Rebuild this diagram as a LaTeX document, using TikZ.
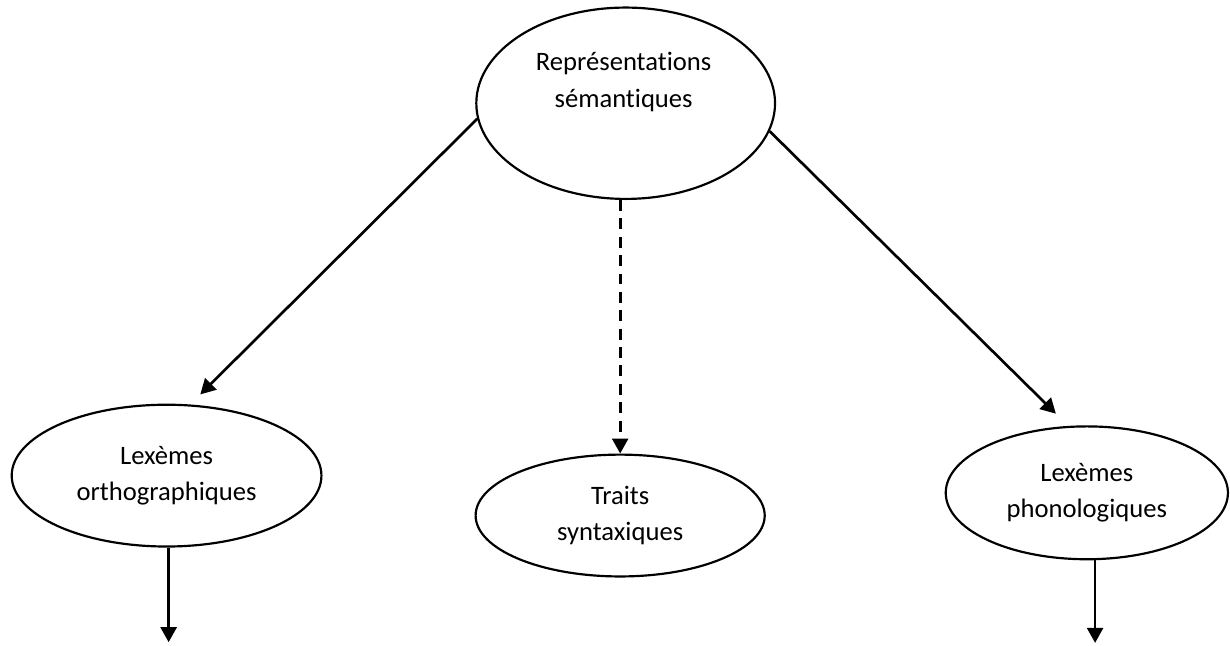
\documentclass[tikz,border=0pt]{standalone}
\usepackage{fontspec}
\setmainfont{Carlito}[Ligatures=CommonOff]
\usetikzlibrary{shapes.geometric,arrows.meta}
\begin{document}
\begin{tikzpicture}[
    bubble/.style={ellipse, draw, line width=0.9pt, inner sep=0pt, align=center},
    >={Triangle[length=6.2pt,width=6.6pt]},
    font=\fontsize{11}{15}\selectfont]
    \useasboundingbox (0,0) rectangle (17.87,9.38);
    \node[bubble, minimum width=4.34cm, minimum height=2.78cm](sem) at (9.09,7.88){};
    \node[align=center](semtext) at (9.06,8.19){Représentations\\sémantiques};
    \node[bubble, minimum width=4.50cm, minimum height=2.06cm](orth) at (2.42,2.47){Lexèmes\\orthographiques};
    \node[bubble, minimum width=4.20cm, minimum height=1.77cm](synt) at (9.01,1.89){Traits\\syntaxiques};
    \node[bubble, minimum width=4.10cm, minimum height=1.93cm](phon) at (15.79,2.22){Lexèmes\\phonologiques};
    \coordinate (orthtop) at (2.91,3.65);
    \coordinate (phontop) at (15.34,3.37);
    \coordinate (orthend) at (2.45,0.05);
    \coordinate (phonend) at (15.91,0.04);
    \draw[line width=1.1pt, ->](sem.186)--(orthtop);
    \draw[line width=1.1pt, ->](sem.-11)--(phontop);
    \draw[line width=1.1pt, ->, dash pattern=on 4.5pt off 3.1pt](sem.south -| synt.north)--(synt.north);
    \draw[line width=1.1pt, ->](orth.south -| orthend)--(orthend);
    \draw[line width=1.1pt, ->](phon.south -| phonend)--(phonend);
\end{tikzpicture}
\end{document}
